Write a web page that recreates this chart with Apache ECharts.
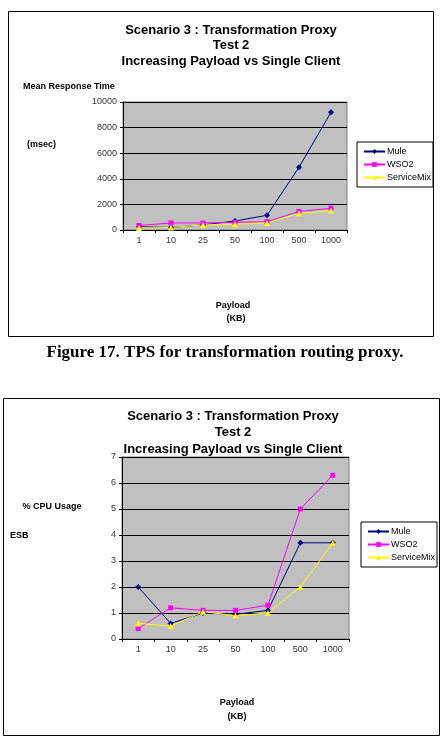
<!DOCTYPE html>
<html>
<head>
<meta charset="utf-8">
<script src="https://cdn.jsdelivr.net/npm/echarts@6/dist/echarts.min.js"></script>
<style>
  html, body { margin: 0; padding: 0; background: #fff; }
  #main { width: 446px; height: 736px; }
</style>
</head>
<body>
<div id="main"></div>
<script>
// data
const payloads = ['1', '10', '25', '50', '100', '500', '1000']
const seriesNames = ['Mule', 'WSO2', 'ServiceMix']

// chart 1 : mean response time (msec)
const muleTime = [250, 200, 400, 700, 1150, 4900, 9200]
const wso2Time = [350, 550, 550, 600, 650, 1450, 1700]
const smixTime = [150, 200, 400, 450, 550, 1300, 1500]

// chart 2 : % CPU usage
const muleCpu = [2.0, 0.6, 1.0, 0.95, 1.1, 3.7, 3.7]
const wso2Cpu = [0.4, 1.2, 1.1, 1.1, 1.3, 5.0, 6.3]
const smixCpu = [0.6, 0.5, 1.05, 0.9, 1.0, 2.0, 3.7]

const timeTicks = [0, 10000, 2000]   // min, max, step
const cpuTicks = [0, 7, 1]

const colors = ['#000080', '#ff00ff', '#ffff00']
const symbols = ['diamond', 'rect', 'triangle']
const sizes = [6, 5, 6]
const FONT = 'Liberation Sans, Arial, sans-serif'

function mkSeries(data, idx, gi){
    return {
        name: seriesNames[idx],
        type: 'line',
        xAxisIndex: gi,
        yAxisIndex: gi,
        data: data,
        symbol: symbols[idx],
        symbolSize: sizes[idx],
        showAllSymbol: true,
        lineStyle: { color: colors[idx], width: 1 },
        itemStyle: { color: colors[idx] },
        emphasis: { disabled: true },
        animation: false
    }
}

function mkX(gi){
    return {
        type: 'category', gridIndex: gi, data: payloads,
        axisLine: { lineStyle: { color: '#000', width: 1 } },
        axisTick: { show: true, length: 3, lineStyle: { color: '#000' } },
        axisLabel: { fontFamily: FONT, fontSize: 9, color: '#333', margin: 6 }
    }
}

function mkY(gi, t){
    return {
        type: 'value', gridIndex: gi, min: t[0], max: t[1], interval: t[2],
        axisLine: { show: true, lineStyle: { color: '#000', width: 1 } },
        axisTick: { show: true, length: 3, lineStyle: { color: '#000' } },
        axisLabel: { fontFamily: FONT, fontSize: 9, color: '#333', margin: 6, formatter: v => String(v) },
        splitLine: { show: true, lineStyle: { color: '#000', width: 1 } }
    }
}

function mkLegend(left, top){
    return {
        orient: 'vertical', left: left, top: top,
        data: seriesNames,
        backgroundColor: '#fff', borderColor: '#000', borderWidth: 1,
        padding: [5, 2, 5, 6], itemGap: 4,
        itemWidth: 21, itemHeight: 6,
        selectedMode: false,
        textStyle: { fontFamily: FONT, fontSize: 9, color: '#000', padding: [0, 0, 0, -3] }
    }
}

function txt(x, y, s, size, weight, align, family){
    return {
        type: 'text', x: x, y: y, silent: true,
        style: {
            text: s, fill: '#000',
            font: (weight || 'bold') + ' ' + size + 'px ' + (family || FONT),
            textAlign: align || 'left', textVerticalAlign: 'middle', lineHeight: 16
        }
    }
}

const chart = echarts.init(document.getElementById('main'))
const option = {
    backgroundColor: '#fff',
    animation: false,
    grid: [
        { left: 123, top: 102, width: 224, height: 128, show: true, backgroundColor: '#c0c0c0', borderColor: '#808080', borderWidth: 1 },
        { left: 122, top: 457, width: 227, height: 182, show: true, backgroundColor: '#c0c0c0', borderColor: '#808080', borderWidth: 1 }
    ],
    xAxis: [mkX(0), mkX(1)],
    yAxis: [mkY(0, timeTicks), mkY(1, cpuTicks)],
    legend: [mkLegend(357, 142), mkLegend(361, 522)],
    series: [
        mkSeries(muleTime, 0, 0), mkSeries(wso2Time, 1, 0), mkSeries(smixTime, 2, 0),
        mkSeries(muleCpu, 0, 1), mkSeries(wso2Cpu, 1, 1), mkSeries(smixCpu, 2, 1)
    ],
    graphic: [
        // chart frames
        { type: 'rect', silent: true, z: -10, shape: { x: 8.5, y: 11.5, width: 425, height: 325 }, style: { fill: 'none', stroke: '#000', lineWidth: 1 } },
        { type: 'rect', silent: true, z: -10, shape: { x: 3.5, y: 398.5, width: 436, height: 337 }, style: { fill: 'none', stroke: '#000', lineWidth: 1 } },
        // chart 1 texts
        txt(231, 30, 'Scenario 3 : Transformation Proxy', 13, 'bold', 'center'),
        txt(231, 45.5, 'Test 2', 13, 'bold', 'center'),
        txt(231, 61, 'Increasing Payload vs Single Client', 13, 'bold', 'center'),
        txt(23, 87, 'Mean Response Time', 9),
        txt(27, 145, '(msec)', 9),
        txt(233, 306, 'Payload', 9, 'bold', 'center'),
        txt(236, 319, '(KB)', 9, 'bold', 'center'),
        // caption
        txt(225, 353, 'Figure 17. TPS for transformation routing proxy.', 17, 'bold', 'center', 'Liberation Serif, Times New Roman, serif'),
        // chart 2 texts
        txt(233, 416, 'Scenario 3 : Transformation Proxy', 13, 'bold', 'center'),
        txt(233, 432, 'Test 2', 13, 'bold', 'center'),
        txt(233, 449, 'Increasing Payload vs Single Client', 13, 'bold', 'center'),
        txt(52, 507, '% CPU Usage', 9, 'bold', 'center'),
        txt(10, 536, 'ESB', 9),
        txt(237, 703, 'Payload', 9, 'bold', 'center'),
        txt(237, 717, '(KB)', 9, 'bold', 'center')
    ]
}
chart.setOption(option)
</script>
</body>
</html>
